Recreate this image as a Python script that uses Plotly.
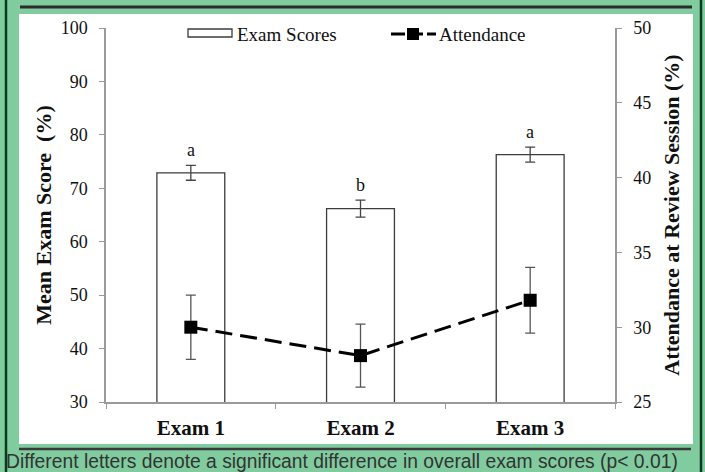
import plotly.graph_objects as go

# ---- data ----
categories = ["Exam 1", "Exam 2", "Exam 3"]
exam_scores = [72.9, 66.2, 76.3]
exam_err = [1.4, 1.6, 1.4]
attendance = [30.0, 28.1, 31.8]
attendance_err = [2.15, 2.1, 2.2]
letters = ["a", "b", "a"]
left_ticks = [30, 40, 50, 60, 70, 80, 90, 100]
right_ticks = [25, 30, 35, 40, 45, 50]

W, H = 705, 472
def px(x):
    return x / W
def py(y):
    return 1 - y / H

SERIF = "Liberation Serif, Times New Roman, serif"
GREEN = "#80CC9F"
AXC = "#9a9a9a"

fig = go.Figure()
fig.add_trace(go.Bar(
    x=categories, y=exam_scores, name="Exam Scores", width=0.4,
    marker=dict(color="white", line=dict(color="#3c3c3c", width=1.3)),
    error_y=dict(type="data", array=exam_err, color="#444", thickness=1.3, width=5),
    showlegend=False, yaxis="y", base=0,
))
fig.add_trace(go.Scatter(
    x=categories, y=attendance, name="Attendance", yaxis="y2", mode="lines+markers",
    line=dict(color="black", width=3, dash="17px,8px"),
    marker=dict(symbol="square", size=13, color="black"),
    error_y=dict(type="data", array=attendance_err, color="#555", thickness=1.3, width=5),
    showlegend=False,
))

annotations = []
for c, v, e, l in zip(categories, exam_scores, exam_err, letters):
    annotations.append(dict(x=c, y=v + e, xref="x", yref="y", text=l, showarrow=False,
                            yanchor="bottom", yshift=3,
                            font=dict(family=SERIF, size=18, color="#111")))

# manual legend
annotations.append(dict(x=px(235), y=py(34), xref="paper", yref="paper", text="Exam Scores",
                        showarrow=False, xanchor="left", yanchor="middle",
                        font=dict(family=SERIF, size=19, color="#111")))
annotations.append(dict(x=px(437), y=py(34), xref="paper", yref="paper", text="Attendance",
                        showarrow=False, xanchor="left", yanchor="middle",
                        font=dict(family=SERIF, size=19, color="#111")))
# caption
annotations.append(dict(x=px(4), y=py(461), xref="paper", yref="paper",
                        text="Different letters denote a significant difference in overall exam scores (p< 0.01)",
                        showarrow=False, xanchor="left", yanchor="middle",
                        font=dict(family="Liberation Sans, Arial, sans-serif", size=19.3, color="#333")))

shapes = [
    # white panel
    dict(type="rect", xref="paper", yref="paper", x0=px(19), x1=px(693), y0=py(444), y1=py(14),
         fillcolor="white", line=dict(width=0), layer="below"),
    # border lines
    dict(type="line", xref="paper", yref="paper", x0=px(6), x1=px(6), y0=0, y1=1,
         line=dict(color="#0B3B1E", width=2.5)),
    dict(type="line", xref="paper", yref="paper", x0=px(701), x1=px(701), y0=0, y1=1,
         line=dict(color="#0B3B1E", width=2.5)),
    dict(type="line", xref="paper", yref="paper", x0=px(20), x1=px(692), y0=py(7), y1=py(7),
         line=dict(color="#2b2b2b", width=3)),
    dict(type="line", xref="paper", yref="paper", x0=px(19), x1=px(691), y0=py(449), y1=py(449),
         line=dict(color="#3a3a3a", width=2.5)),
    # legend icons
    dict(type="rect", xref="paper", yref="paper", x0=px(188), x1=px(232), y0=py(37), y1=py(29),
         fillcolor="white", line=dict(color="#3c3c3c", width=1.3)),
    dict(type="line", xref="paper", yref="paper", x0=px(391), x1=px(436), y0=py(34), y1=py(34),
         line=dict(color="black", width=3, dash="14px,4px")),
    dict(type="rect", xref="paper", yref="paper", x0=px(407), x1=px(419), y0=py(40), y1=py(28),
         fillcolor="black", line=dict(width=0)),
]

fig.update_layout(
    width=W, height=H, margin=dict(l=0, r=0, t=0, b=0),
    paper_bgcolor=GREEN, plot_bgcolor="white",
    showlegend=False, bargap=0.6,
    annotations=annotations, shapes=shapes,
    xaxis=dict(domain=[px(106), px(615)], type="category", tickson="boundaries",
               ticks="outside", ticklen=5, tickcolor=AXC, showline=True, linecolor=AXC,
               linewidth=1.5, showgrid=False, anchor="y", automargin=False,
               ticklabelstandoff=6,
               tickfont=dict(family=SERIF, size=21, color="#111", weight="bold")),
    yaxis=dict(domain=[py(402), py(28)], range=[30, 100], tickvals=left_ticks,
               ticks="outside", ticklen=5, tickcolor=AXC, showline=True, linecolor=AXC,
               linewidth=1.5, showgrid=False, zeroline=False, anchor="x", automargin=False,
               ticklabelstandoff=8,
               tickfont=dict(family=SERIF, size=18, color="#111"),
               title=dict(text="Mean Exam Score\u00a0 (%)", standoff=3,
                          font=dict(family=SERIF, size=22, color="#111", weight="bold"))),
    yaxis2=dict(domain=[py(402), py(28)], range=[25, 50], tickvals=right_ticks,
                overlaying="y", side="right", anchor="x", automargin=False,
                ticks="outside", ticklen=5, tickcolor=AXC, showline=True, linecolor=AXC,
                linewidth=1.5, showgrid=False, zeroline=False,
                ticklabelstandoff=8,
                tickfont=dict(family=SERIF, size=18, color="#111"),
                title=dict(text="Attendance at Review Session (%)", standoff=13,
                           font=dict(family=SERIF, size=22, color="#111", weight="bold"))),
)

fig.write_html("out.html", config={"responsive": False, "displayModeBar": False},
               post_script="document.body.style.margin='0';document.body.style.overflow='hidden';")
